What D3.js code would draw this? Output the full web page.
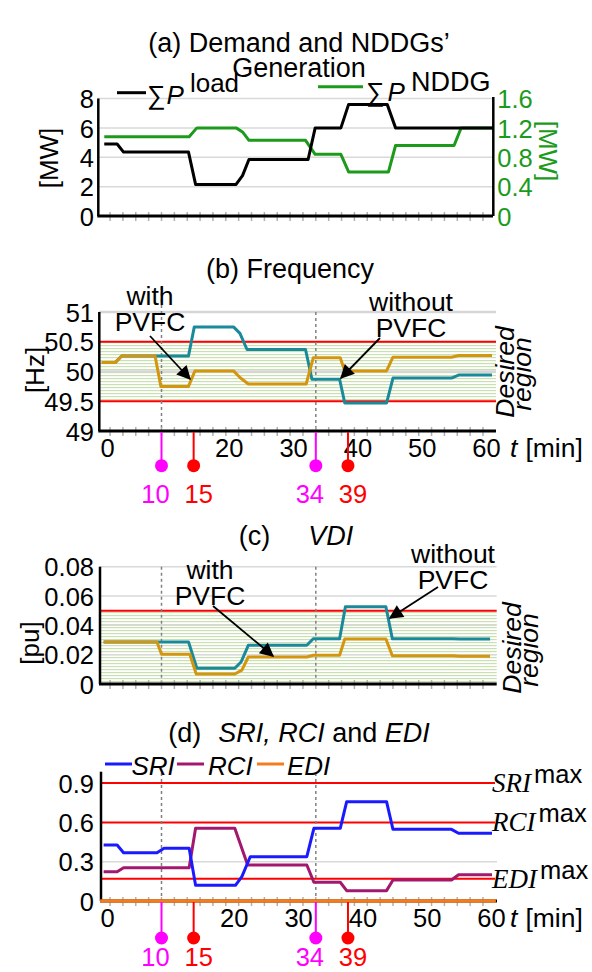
<!DOCTYPE html>
<html>
<head>
<meta charset="utf-8">
<script src="https://cdn.jsdelivr.net/npm/d3@7"></script>
<style>
	body { margin: 0; background: #fff; }
	svg { display: block; font-family: "Liberation Sans", Arial, sans-serif; }
</style>
</head>
<body>
<script>
// time axis (minutes) and events
var timeTicks = [0, 20, 30, 40, 50, 60];
var minorTicks = d3.range(2, 62, 2);
var events = [10, 15, 34, 39];
var eventColor = ['#ff00ff', '#ff0000', '#ff00ff', '#ff0000'];

// (a) demand and NDDG generation
var loadTime = [1.1, 3.1, 4.1, 14.2, 15.3, 21.6, 22.6, 23.6, 32.8, 33.9, 37.9, 39.1, 45.1, 46.4, 61.6];
var loadMW = [4.9, 4.9, 4.35, 4.35, 2.15, 2.15, 2.75, 3.85, 3.85, 6.0, 6.0, 7.6, 7.6, 6.0, 6.0];
var nddgTime = [1.1, 14.3, 15.5, 21.6, 22.6, 23.6, 32.4, 33.9, 37.9, 39.1, 45.3, 46.4, 55.5, 56.6, 61.6];
var nddgMW = [1.08, 1.08, 1.2, 1.2, 1.145, 1.03, 1.03, 0.84, 0.84, 0.6, 0.6, 0.96, 0.96, 1.2, 1.2];
var loadTicks = [0, 2, 4, 6, 8];
var nddgTicks = [0, 0.4, 0.8, 1.2, 1.6];

// (b) frequency
var freqWithTime = [0.7, 2.8, 3.8, 9.0, 9.9, 14.2, 15.2, 21.2, 22.2, 23.5, 32.5, 33.6, 37.8, 38.5, 45.0, 46.0, 55.1, 56.2, 61.4];
var freqWith = [50.15, 50.15, 50.26, 50.26, 49.75, 49.75, 50.01, 50.01, 49.9, 49.79, 49.79, 50.23, 50.23, 50.01, 50.01, 50.24, 50.24, 50.27, 50.27];
var freqWithoutTime = [0.7, 2.8, 3.8, 14.2, 15.1, 21.2, 22.2, 23.3, 32.4, 33.4, 37.7, 38.5, 45.0, 46.0, 55.1, 56.2, 61.4];
var freqWithout = [50.15, 50.15, 50.26, 50.26, 50.75, 50.75, 50.64, 50.37, 50.37, 49.87, 49.87, 49.47, 49.47, 49.89, 49.89, 49.94, 49.94];
var freqTicks = [49, 49.5, 50, 50.5, 51];
var freqLimits = [49.5, 50.5];

// (c) VDI
var vdiWithTime = [1.0, 9.3, 10.0, 14.4, 15.4, 21.4, 22.5, 23.5, 32.6, 33.6, 37.7, 38.5, 44.9, 45.9, 55.4, 56.4, 61.1];
var vdiWith = [0.0287, 0.0287, 0.0203, 0.0203, 0.0068, 0.0068, 0.0095, 0.0184, 0.0184, 0.0196, 0.0196, 0.0307, 0.0307, 0.0193, 0.0193, 0.0189, 0.0189];
var vdiWithoutTime = [1.0, 14.2, 15.5, 21.4, 22.4, 23.5, 32.6, 33.6, 37.7, 38.6, 44.9, 45.9, 55.3, 56.4, 61.1];
var vdiWithout = [0.0287, 0.0287, 0.0107, 0.0107, 0.0152, 0.0264, 0.0264, 0.0309, 0.0309, 0.0527, 0.0527, 0.0309, 0.0309, 0.0307, 0.0307];
var vdiTicks = [0, 0.02, 0.04, 0.06, 0.08];
var vdiLimit = 0.05;

// (d) SRI, RCI and EDI
var idxTime = [1.0, 3.1, 4.1, 9.3, 10.4, 14.3, 15.3, 21.5, 22.5, 23.8, 32.6, 33.7, 37.8, 38.8, 45.0, 46.0, 55.1, 56.2, 61.4];
var sri = [0.427, 0.427, 0.369, 0.369, 0.402, 0.402, 0.12, 0.12, 0.186, 0.338, 0.338, 0.555, 0.555, 0.758, 0.758, 0.547, 0.547, 0.517, 0.517];
var rciTime = [1.0, 3.1, 4.1, 14.3, 15.3, 21.4, 23.4, 32.6, 33.7, 37.8, 38.8, 45.0, 46.0, 55.1, 56.2, 61.4];
var rci = [0.224, 0.224, 0.254, 0.254, 0.555, 0.555, 0.275, 0.275, 0.143, 0.143, 0.079, 0.079, 0.16, 0.16, 0.2, 0.2];
var ediTime = [0.45, 62];
var edi = [0, 0];
var idxTicks = [0, 0.3, 0.6, 0.9];
var idxLimits = [0.9, 0.6, 0.17];
var idxLimitNames = ['SRI', 'RCI', 'EDI'];

var colors = {
	load: '#000000',
	nddg: '#1c9a1c',
	withPVFC: '#d4960f',
	withoutPVFC: '#1a8a9b',
	sri: '#1a1aff',
	rci: '#a3186f',
	edi: '#f47c20'
};

var svg = d3.select('body').append('svg')
	.attr('width', 592)
	.attr('height', 972);

var defs = svg.append('defs');

defs.append('pattern')
	.attr('id', 'hatch')
	.attr('patternUnits', 'userSpaceOnUse')
	.attr('width', 8)
	.attr('height', 3)
	.append('rect')
	.attr('width', 8)
	.attr('height', 1.2)
	.attr('fill', '#c9e0b2');

defs.append('marker')
	.attr('id', 'arrow')
	.attr('viewBox', '0 0 10 10')
	.attr('refX', 9)
	.attr('refY', 5)
	.attr('markerUnits', 'userSpaceOnUse')
	.attr('markerWidth', 17)
	.attr('markerHeight', 14)
	.attr('orient', 'auto')
	.append('path')
	.attr('d', 'M0,0 L10,5 L0,10 z')
	.attr('fill', '#000');

var x = d3.scaleLinear().domain([0, 60]).range([97.2, 483]);

function lineFor(y) {
	return d3.line()
		.x(function(d) { return x(d[0]); })
		.y(function(d) { return y(d[1]); });
}

function drawSeries(g, y, times, values, color, width) {
	g.append('path')
		.datum(d3.zip(times, values))
		.attr('d', lineFor(y))
		.attr('fill', 'none')
		.attr('stroke', color)
		.attr('stroke-width', width || 3)
		.attr('stroke-linejoin', 'round');
}

function hLines(g, y, values, x1, x2, color, width) {
	g.selectAll(null)
		.data(values)
		.enter()
		.append('line')
		.attr('x1', x1)
		.attr('x2', x2)
		.attr('y1', function(d) { return y(d); })
		.attr('y2', function(d) { return y(d); })
		.attr('stroke', color)
		.attr('stroke-width', width);
}

function yAxis(g, y, left, ticks, fmt) {
	var ax = g.append('g')
		.attr('transform', 'translate(' + left + ',0)')
		.call(d3.axisLeft(y).tickValues(ticks).tickSize(0).tickPadding(left - 94).tickFormat(fmt || d3.format('')));
	ax.select('.domain').remove();
	ax.selectAll('text')
		.attr('font-size', 25.5)
		.attr('font-family', '"Liberation Sans", Arial, sans-serif')
		.attr('fill', '#000')
		.attr('dy', '0.36em');
	return ax;
}

function frame(g, left, right, top, bottom) {
	// minor ticks on the time axis
	g.selectAll(null)
		.data(minorTicks)
		.enter()
		.append('line')
		.attr('x1', function(d) { return x(d); })
		.attr('x2', function(d) { return x(d); })
		.attr('y1', bottom - 4)
		.attr('y2', bottom + 5)
		.attr('stroke', '#b0b0b0')
		.attr('stroke-width', 1.5);

	g.append('line')
		.attr('x1', left).attr('x2', left)
		.attr('y1', top).attr('y2', bottom)
		.attr('stroke', '#000').attr('stroke-width', 2.5);

	g.append('line')
		.attr('x1', left - 1).attr('x2', right)
		.attr('y1', bottom).attr('y2', bottom)
		.attr('stroke', '#000').attr('stroke-width', 3);
}

function timeLabels(g, bottom, shift) {
	var ax = g.append('g')
		.attr('transform', 'translate(0,' + bottom + ')')
		.call(d3.axisBottom(x).tickValues(timeTicks).tickSize(0));
	ax.select('.domain').remove();
	ax.selectAll('text')
		.attr('font-size', 25.5)
		.attr('font-family', '"Liberation Sans", Arial, sans-serif')
		.attr('fill', '#000')
		.attr('y', 26)
		.attr('dy', 0)
		.attr('dx', function(d) { return d === 0 ? 10 : shift; });

	var t = g.append('text')
		.attr('x', 510)
		.attr('y', bottom + 26)
		.attr('font-size', 26.5);
	t.append('tspan').attr('font-style', 'italic').text('t');
	t.append('tspan').attr('dx', 8).text('[min]');
}

function dashed(g, times, tops, bottom) {
	g.selectAll(null)
		.data(times)
		.enter()
		.append('line')
		.attr('x1', function(d) { return x(d); })
		.attr('x2', function(d) { return x(d); })
		.attr('y1', function(d, i) { return tops[i]; })
		.attr('y2', bottom)
		.attr('stroke', '#808080')
		.attr('stroke-width', 1.5)
		.attr('stroke-dasharray', '3,3');
}

function eventMarkers(g, bottom, circleY, labelY) {
	var ev = g.selectAll(null)
		.data(events)
		.enter()
		.append('g');

	ev.append('line')
		.attr('x1', function(d) { return x(d); })
		.attr('x2', function(d) { return x(d); })
		.attr('y1', bottom + 1)
		.attr('y2', circleY)
		.attr('stroke', function(d, i) { return eventColor[i]; })
		.attr('stroke-width', 2);

	ev.append('circle')
		.attr('cx', function(d) { return x(d); })
		.attr('cy', circleY)
		.attr('r', 6.5)
		.attr('fill', function(d, i) { return eventColor[i]; });

	ev.append('text')
		.attr('x', function(d, i) { return x(d) + (i % 2 === 0 ? -6 : 5); })
		.attr('y', labelY)
		.attr('text-anchor', 'middle')
		.attr('font-size', 25.5)
		.attr('fill', function(d, i) { return eventColor[i]; })
		.text(function(d) { return d; });
}

// two stacked lines in one text element
function twoLines(g, xPos, y, first, second, gap, size) {
	var t = g.append('text')
		.attr('x', xPos)
		.attr('y', y)
		.attr('text-anchor', 'middle')
		.attr('font-size', size);
	t.append('tspan').attr('x', xPos).text(first);
	t.append('tspan').attr('x', xPos).attr('dy', gap).text(second);
	return t;
}

function desiredRegion(g, cx1, cy) {
	var t = g.append('text')
		.attr('transform', 'translate(' + cx1 + ',' + cy + ') rotate(-90)')
		.attr('text-anchor', 'middle')
		.attr('font-size', 26.5)
		.attr('font-style', 'italic');
	t.append('tspan').attr('x', 0).text('Desired');
	t.append('tspan').attr('x', -2).attr('dy', 17).text('region');
}

function callout(g, label1, label2, cx, y1, x1, yA1, x2, yA2) {
	twoLines(g, cx, y1, label1, label2, 26, 26.5);
	g.append('line')
		.attr('x1', x1).attr('y1', yA1)
		.attr('x2', x2).attr('y2', yA2)
		.attr('stroke', '#000')
		.attr('stroke-width', 1.8)
		.attr('marker-end', 'url(#arrow)');
}

// parts: [text, italic, gap before]
function title(g, cx, y, parts) {
	var t = g.append('text')
		.attr('x', cx)
		.attr('y', y)
		.attr('text-anchor', 'middle')
		.attr('font-size', 27);
	parts.forEach(function(p) {
		t.append('tspan')
			.attr('font-style', p[1] ? 'italic' : 'normal')
			.attr('dx', p[2] || 0)
			.text(p[0]);
	});
}

function yLabel(g, cx, cy, angle, text, color) {
	g.append('text')
		.attr('transform', 'translate(' + cx + ',' + cy + ') rotate(' + angle + ')')
		.attr('text-anchor', 'middle')
		.attr('font-size', 26)
		.attr('fill', color || '#000')
		.text(text);
}

// ---------------- (a) ----------------
var gA = svg.append('g');
var yA = d3.scaleLinear().domain([0, 8]).range([216, 98.5]);
var yA2 = d3.scaleLinear().domain([0, 1.6]).range([216, 98.5]);

twoLines(gA, 299, 52, '(a) Demand and NDDGs\u2019', 'Generation', 25, 27);

hLines(gA, yA, loadTicks.slice(1), 98, 493, '#d9d9d9', 1.5);
drawSeries(gA, yA2, nddgTime, nddgMW, colors.nddg);
drawSeries(gA, yA, loadTime, loadMW, colors.load);
frame(gA, 98.3, 493, 98.5, 216);
gA.append('line')
	.attr('x1', 493.3).attr('x2', 493.3)
	.attr('y1', 97).attr('y2', 216)
	.attr('stroke', '#000').attr('stroke-width', 2.5);

yAxis(gA, yA, 98.3, loadTicks);
var axA2 = gA.append('g')
	.attr('transform', 'translate(493.3,0)')
	.call(d3.axisRight(yA2).tickValues(nddgTicks).tickSize(0).tickPadding(4).tickFormat(d3.format('')));
axA2.select('.domain').remove();
axA2.selectAll('text')
	.attr('font-size', 25.5)
	.attr('font-family', '"Liberation Sans", Arial, sans-serif')
	.attr('fill', colors.nddg)
	.attr('dy', '0.36em');

yLabel(gA, 58, 158, -90, '[MW]');
yLabel(gA, 539, 151, 90, '[MW]', colors.nddg);

// legend (a)
gA.append('line').attr('x1', 117).attr('x2', 146).attr('y1', 92.7).attr('y2', 92.7)
	.attr('stroke', colors.load).attr('stroke-width', 3);
var legLoad = gA.append('text').attr('x', 147).attr('y', 104).attr('font-size', 26);
legLoad.append('tspan').text('\u2211');
legLoad.append('tspan').attr('font-style', 'italic').attr('dx', 1).text('P');
legLoad.append('tspan').attr('dx', 6).attr('dy', -12).text('load');

gA.append('line').attr('x1', 318).attr('x2', 363).attr('y1', 86.7).attr('y2', 86.7)
	.attr('stroke', colors.nddg).attr('stroke-width', 3);
var legNddg = gA.append('text').attr('x', 366).attr('y', 101).attr('font-size', 26);
legNddg.append('tspan').text('\u2211');
legNddg.append('tspan').attr('font-style', 'italic').attr('dx', 3).text('P');
legNddg.append('tspan').attr('dx', 6).attr('dy', -10).attr('font-size', 27).text('NDDG');

// ---------------- (b) ----------------
var gB = svg.append('g');
var yB = d3.scaleLinear().domain([49, 51]).range([431, 312]);

title(gB, 290, 278, [['(b) Frequency', false]]);

gB.append('rect')
	.attr('x', 99.3)
	.attr('width', 496 - 99.3)
	.attr('y', yB(freqLimits[1]))
	.attr('height', yB(freqLimits[0]) - yB(freqLimits[1]))
	.attr('fill', 'url(#hatch)');
hLines(gB, yB, [50, 51], 99, 496, '#d6d6d6', 2.5);
hLines(gB, yB, freqLimits, 99, 496, '#ff0000', 2);
dashed(gB, [10, 34], [287, 312], 431);
drawSeries(gB, yB, freqWithoutTime, freqWithout, colors.withoutPVFC);
drawSeries(gB, yB, freqWithTime, freqWith, colors.withPVFC);
frame(gB, 99.3, 496, 312, 431);
yAxis(gB, yB, 99.3, freqTicks);
timeLabels(gB, 431, 3);
eventMarkers(gB, 431, 465.7, 503);
yLabel(gB, 44, 370, -90, '[Hz]');
desiredRegion(gB, 514, 372);
callout(gB, 'with', 'PVFC', 150, 305, 150, 336, 190, 379);
callout(gB, 'without', 'PVFC', 411, 311, 380, 338, 341, 378);

// ---------------- (c) ----------------
var gC = svg.append('g');
var yC = d3.scaleLinear().domain([0, 0.08]).range([684, 566.7]);

title(gC, 296, 545, [['(c)', false], ['VDI', true, 38]]);

gC.append('rect')
	.attr('x', 100)
	.attr('width', 496.7 - 100)
	.attr('y', yC(vdiLimit))
	.attr('height', yC(0) - yC(vdiLimit))
	.attr('fill', 'url(#hatch)');
hLines(gC, yC, vdiTicks.slice(1), 100, 496.7, '#d9d9d9', 1.5);
hLines(gC, yC, [vdiLimit], 100, 496.7, '#ff0000', 2);
dashed(gC, [10, 34], [566.7, 566.7], 684);
drawSeries(gC, yC, vdiWithoutTime, vdiWithout, colors.withoutPVFC);
drawSeries(gC, yC, vdiWithTime, vdiWith, colors.withPVFC);
frame(gC, 100, 496.7, 566.7, 684);
yAxis(gC, yC, 100, vdiTicks, function(d) { return d === 0 ? '0' : d3.format('.2f')(d); });
yLabel(gC, 39, 643, -90, '[pu]');
desiredRegion(gC, 521, 648);
callout(gC, 'with', 'PVFC', 210, 579, 213, 606, 273, 656);
callout(gC, 'without', 'PVFC', 453, 563, 438, 587, 390, 618);

// ---------------- (d) ----------------
var gD = svg.append('g');
var yD = d3.scaleLinear().domain([0, 1]).range([901, 770]);

title(gD, 299, 742, [['(d)', false], ['SRI, RCI', true, 17], [' and ', false], ['EDI', true]]);

hLines(gD, yD, [0.3], 101, 497, '#d9d9d9', 1.5);
hLines(gD, yD, idxLimits, 101, 495, '#ff0000', 2);
dashed(gD, [10, 34], [773, 773], 901);
drawSeries(gD, yD, rciTime, rci, colors.rci);
drawSeries(gD, yD, idxTime, sri, colors.sri);
frame(gD, 101, 497, 771.7, 901);
drawSeries(gD, yD, ediTime, edi, colors.edi, 3.5);
yAxis(gD, yD, 101, idxTicks, function(d) { return d === 0 ? '0' : d3.format('.1f')(d); });
timeLabels(gD, 901, 8);
eventMarkers(gD, 901, 938, 966);

// limit labels
gD.selectAll(null)
	.data(idxLimits)
	.enter()
	.append('text')
	.attr('x', 492)
	.attr('y', function(d) { return yD(d) + 9; })
	.attr('font-size', 27)
	.attr('font-family', '"Liberation Serif", "Times New Roman", serif')
	.attr('font-style', 'italic')
	.text(function(d, i) { return idxLimitNames[i]; })
	.append('tspan')
	.attr('font-family', '"Liberation Sans", Arial, sans-serif')
	.attr('font-style', 'normal')
	.attr('font-size', 25.5)
	.attr('dx', 3)
	.attr('dy', -9)
	.text('max');

// legend (d)
var legD = [['SRI', colors.sri, 105, 131.5], ['RCI', colors.rci, 177, 208], ['EDI', colors.edi, 257, 287]];
legD.forEach(function(l) {
	gD.append('line').attr('x1', l[2]).attr('x2', l[2] + 27).attr('y1', 764).attr('y2', 764)
		.attr('stroke', l[1]).attr('stroke-width', 3);
	gD.append('text').attr('x', l[3]).attr('y', 775).attr('font-size', 26).attr('font-style', 'italic').text(l[0]);
});
</script>
</body>
</html>
